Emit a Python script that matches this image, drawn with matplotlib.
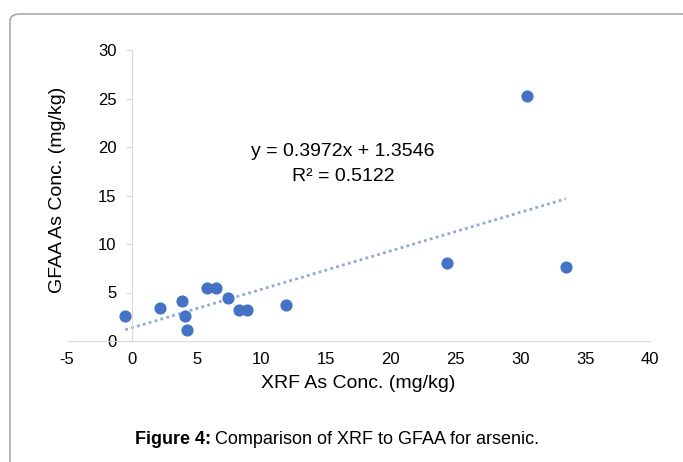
import numpy as np
import matplotlib.pyplot as plt
from matplotlib.patches import FancyBboxPatch

plt.rcParams['font.family'] = ['Liberation Sans', 'DejaVu Sans']
plt.rcParams['axes.unicode_minus'] = False

# XRF vs GFAA arsenic concentrations (mg/kg)
xrf = [-0.5, 2.2, 3.9, 4.1, 4.3, 5.8, 6.5, 7.4, 8.3, 8.9, 11.9, 24.3, 30.5, 33.5]
gfaa = [2.6, 3.4, 4.1, 2.6, 1.1, 5.5, 5.5, 4.4, 3.2, 3.2, 3.7, 8.0, 25.3, 7.6]
slope = 0.3972
intercept = 1.3546
r2 = 0.5122
xticks = [-5, 0, 5, 10, 15, 20, 25, 30, 35, 40]
yticks = [0, 5, 10, 15, 20, 25, 30]

fig = plt.figure(figsize=(6.83, 4.62), dpi=100)

# rounded frame around the figure
frame = FancyBboxPatch((10/683, -0.05), 1.0, 1 - 14/462 + 0.05,
                       boxstyle="round,pad=0,rounding_size=0.015",
                       transform=fig.transFigure, facecolor='none',
                       edgecolor='#9a9a9a', linewidth=1.0)
fig.patches.append(frame)

ax = fig.add_axes([67/683, 1 - 341/462, (650 - 67)/683, (341 - 50)/462])

ax.scatter(xrf, gfaa, s=60, color='#4472C4', zorder=3)

# linear trendline over the data range
xt = np.linspace(min(xrf), max(xrf), 50)
ax.plot(xt, slope*xt + intercept, linestyle=(0, (1, 1.2)), color='#8faad6',
        linewidth=2.0, zorder=2)

ax.text(16.3, 19.5, f"y = {slope}x + {intercept}", ha='center', va='center', fontsize=14)
ax.text(16.3, 17.0, f"R² = {r2}", ha='center', va='center', fontsize=14)

ax.set_xlim(-5, 40)
ax.set_ylim(0, 30)
ax.set_xticks(xticks)
ax.set_yticks(yticks)

for s in ['top', 'right']:
    ax.spines[s].set_visible(False)
ax.spines['left'].set_position(('data', 0))
ax.spines['left'].set_color('#d9d9d9')
ax.spines['bottom'].set_color('#d9d9d9')
ax.tick_params(axis='y', length=4, color='#d9d9d9', labelsize=12, pad=7)
ax.tick_params(axis='x', length=0, labelsize=12, pad=8)

ax.set_xlabel("XRF As Conc. (mg/kg)", fontsize=14, labelpad=6)
fig.text(57/683, 1 - 190/462, "GFAA As Conc. (mg/kg)", rotation=90,
         ha='center', va='center', fontsize=14)

# caption: bold prefix followed by regular text
renderer = fig.canvas.get_renderer()
cap_y = 1 - 440/462
t1 = fig.text(135/683, cap_y, "Figure 4:", fontweight='bold', fontsize=13,
              ha='left', va='center')
bb = t1.get_window_extent(renderer)
fig.text((bb.x1 + 4)/683, cap_y, "Comparison of XRF to GFAA for arsenic.",
         fontsize=13, ha='left', va='center')

fig.savefig("out.png", dpi=100)
